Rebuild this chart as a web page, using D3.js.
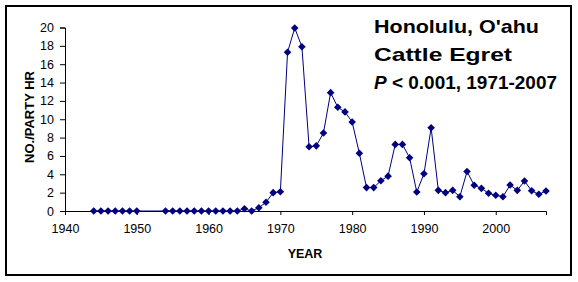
<!DOCTYPE html>
<html>
<head>
<meta charset="utf-8">
<script src="https://cdn.jsdelivr.net/npm/d3@7"></script>
<style>
  body { margin: 0; background: #fff; }
  svg { display: block; font-family: Arial, "Liberation Sans", sans-serif; }
</style>
</head>
<body>
<svg id="chart" width="578" height="282"></svg>
<script>
let svg = d3.select("#chart");

// Data
let years = [1944, 1945, 1946, 1947, 1948, 1949, 1950,
  1954, 1955, 1956, 1957, 1958, 1959, 1960, 1961, 1962, 1963, 1964,
  1965, 1966, 1967, 1968, 1969, 1970, 1971, 1972, 1973, 1974, 1975,
  1976, 1977, 1978, 1979, 1980, 1981, 1982, 1983, 1984, 1985, 1986,
  1987, 1988, 1989, 1990, 1991, 1992, 1993, 1994, 1995, 1996, 1997,
  1998, 1999, 2000, 2001, 2002, 2003, 2004, 2005, 2006, 2007];
let perPartyHr = [0, 0, 0, 0, 0, 0, 0,
  0, 0, 0, 0, 0, 0, 0, 0, 0, 0, 0,
  0.25, 0, 0.36, 0.95, 2.0, 2.1, 17.3, 19.95, 17.9, 7.0, 7.1,
  8.5, 12.9, 11.3, 10.8, 9.7, 6.3, 2.55, 2.55, 3.3, 3.8, 7.26,
  7.26, 5.8, 2.07, 4.06, 9.07, 2.25, 2.0, 2.25, 1.56, 4.3, 2.8,
  2.47, 1.93, 1.71, 1.56, 2.83, 2.25, 3.27, 2.2, 1.82, 2.18];
let xTicks = [1940, 1950, 1960, 1970, 1980, 1990, 2000];
let yTicks = [0, 2, 4, 6, 8, 10, 12, 14, 16, 18, 20];
let titleLines = ["Honolulu, O'ahu", "Cattle Egret"];
let titleWidths = [165, 138];

let navy = "#000080";

// outer frame
svg.append("rect")
  .attr("x", 6).attr("y", 6)
  .attr("width", 565).attr("height", 269)
  .attr("fill", "none").attr("stroke", "#000").attr("stroke-width", 2);

let x = d3.scaleLinear().domain([1940, 2007]).range([65, 546]);
let y = d3.scaleLinear().domain([0, 20]).range([211, 27.5]);

// axes
let xAxis = svg.append("g")
  .attr("transform", "translate(0,211)")
  .call(d3.axisBottom(x).tickValues(xTicks).tickFormat(d3.format("d")).tickSize(4).tickPadding(9));
let yAxis = svg.append("g")
  .attr("transform", "translate(65,0)")
  .call(d3.axisLeft(y).tickValues(yTicks).tickSize(5).tickPadding(6));

[xAxis, yAxis].forEach(g => {
  g.select(".domain").attr("stroke", "#000");
  g.selectAll(".tick line").attr("stroke", "#000");
  g.selectAll(".tick text")
    .attr("fill", "#000")
    .style("font-size", "12.5px")
    .style("font-family", "Arial, 'Liberation Sans', sans-serif");
});

// series line
let line = d3.line()
  .x((d, i) => x(years[i]))
  .y(d => y(d));

svg.append("path")
  .datum(perPartyHr)
  .attr("d", line)
  .attr("fill", "none")
  .attr("stroke", navy)
  .attr("stroke-width", 1);

// diamond markers
svg.append("g").selectAll("path")
  .data(perPartyHr)
  .join("path")
  .attr("transform", (d, i) => `translate(${x(years[i])},${y(d)})`)
  .attr("d", "M0,-3.8L3.8,0L0,3.8L-3.8,0Z")
  .attr("fill", navy);

// axis titles
svg.append("text")
  .attr("transform", "translate(34,117) rotate(-90)")
  .attr("text-anchor", "middle")
  .style("font-size", "13px")
  .style("font-weight", "bold")
  .text("NO./PARTY HR");

svg.append("text")
  .attr("x", 305).attr("y", 258)
  .attr("text-anchor", "middle")
  .style("font-size", "12.5px")
  .style("font-weight", "bold")
  .text("YEAR");

// title block
let title = svg.append("g").style("font-size", "19px").style("font-weight", "bold");
title.selectAll("text.t")
  .data(titleLines)
  .join("text")
  .attr("class", "t")
  .attr("x", 374)
  .attr("y", (d, i) => 33 + i * 28)
  .attr("textLength", (d, i) => titleWidths[i])
  .attr("lengthAdjust", "spacingAndGlyphs")
  .text(d => d);

let pLine = title.append("text").attr("x", 374).attr("y", 89)
  .attr("textLength", 183)
  .attr("lengthAdjust", "spacingAndGlyphs");
pLine.append("tspan").style("font-style", "italic").text("P");
pLine.append("tspan").text(" < 0.001, 1971-2007");
</script>
</body>
</html>
